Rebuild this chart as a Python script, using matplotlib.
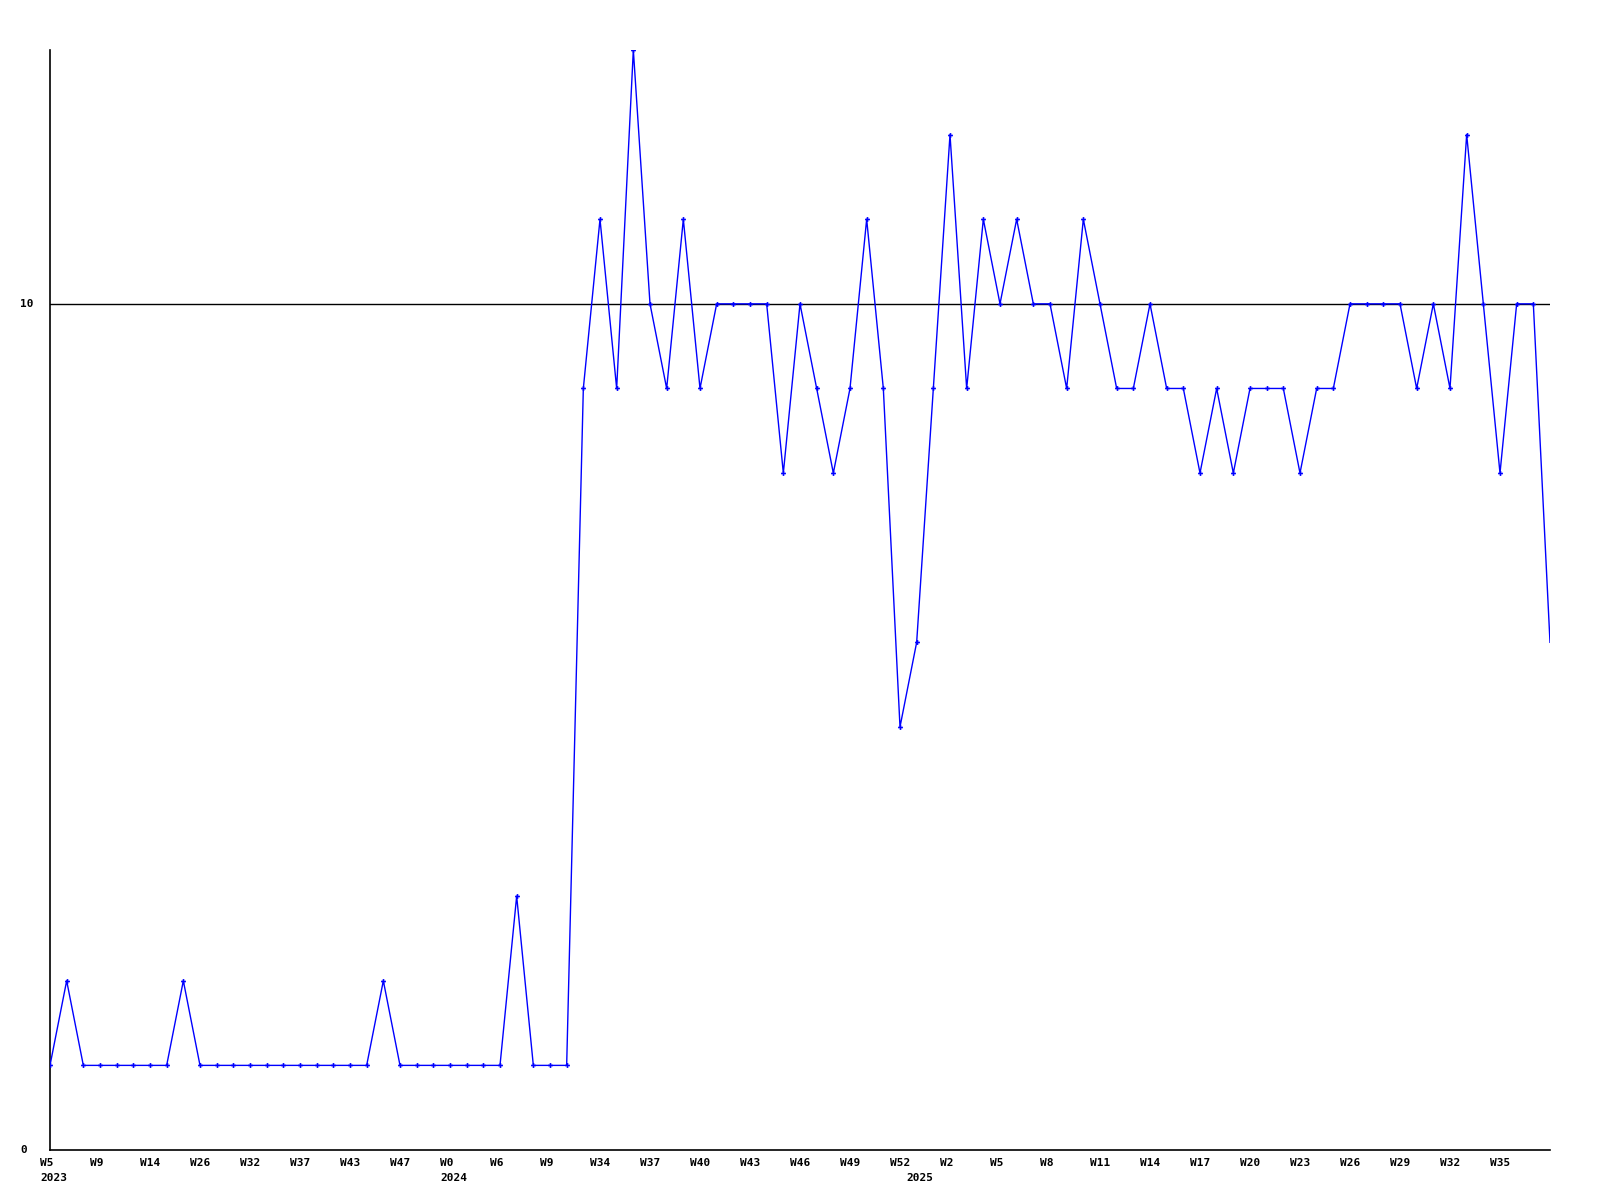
import matplotlib
matplotlib.use("Agg")
import matplotlib.pyplot as plt
import matplotlib.transforms as mtransforms

values = [1, 2, 1, 1, 1, 1, 1, 1, 2, 1,
          1, 1, 1, 1, 1, 1, 1, 1, 1, 1,
          2, 1, 1, 1, 1, 1, 1, 1, 3, 1,
          1, 1, 9, 11, 9, 13, 10, 9, 11, 9,
          10, 10, 10, 10, 8, 10, 9, 8, 9, 11,
          9, 5, 6, 9, 12, 9, 11, 10, 11, 10,
          10, 9, 11, 10, 9, 9, 10, 9, 9, 8,
          9, 8, 9, 9, 9, 8, 9, 9, 10, 10,
          10, 10, 9, 10, 9, 12, 10, 8, 10, 10,
          6]
week_labels = ["W5", "W9", "W14", "W26", "W32", "W37", "W43", "W47", "W0", "W6",
               "W9", "W34", "W37", "W40", "W43", "W46", "W49", "W52", "W2", "W5",
               "W8", "W11", "W14", "W17", "W20", "W23", "W26", "W29", "W32", "W35"]
week_label_idx = list(range(0, 90, 3))
year_labels = ["2023", "2024", "2025"]
year_label_idx = [0, 24, 52]
y_ticks = [0, 10]

fig = plt.figure(figsize=(16, 12), dpi=100)
ax = fig.add_axes([50/1600, 50/1200, 1500/1600, 1100/1200])
n = len(values)
xs = list(range(n))
ax.plot(xs, values, color="#0000ff", lw=1.0, zorder=3)
ax.plot(xs[:-1], values[:-1], ls="none", marker="P", markersize=3.5,
        color="#0000ff", markeredgewidth=0, zorder=4)
ax.axhline(10, color="black", lw=1, zorder=2)
ax.set_xlim(0, n - 1)
ax.set_ylim(0, 13)
for s in ["top", "right"]:
    ax.spines[s].set_visible(False)
for s in ["left", "bottom"]:
    ax.spines[s].set_linewidth(1.2)
    ax.spines[s].set_color("black")
ax.set_xticks([])
ax.set_yticks([])

font = dict(family="DejaVu Sans Mono", fontweight="bold", fontsize=8)
blend = mtransforms.blended_transform_factory(ax.transData, ax.transAxes)
off_w = mtransforms.ScaledTranslation(-10/100, -8/100, fig.dpi_scale_trans)
off_y = mtransforms.ScaledTranslation(-10/100, -23/100, fig.dpi_scale_trans)
for i, lab in zip(week_label_idx, week_labels):
    ax.text(i, 0, lab, transform=blend + off_w, ha="left", va="top", **font)
for i, lab in zip(year_label_idx, year_labels):
    ax.text(i, 0, lab, transform=blend + off_y, ha="left", va="top", **font)
blend_y = mtransforms.blended_transform_factory(ax.transAxes, ax.transData)
off_l = mtransforms.ScaledTranslation(-30/100, 0, fig.dpi_scale_trans)
for v in y_ticks:
    ax.text(0, v, str(v), transform=blend_y + off_l, ha="left", va="center", **font)

fig.savefig("out.png", dpi=100)
